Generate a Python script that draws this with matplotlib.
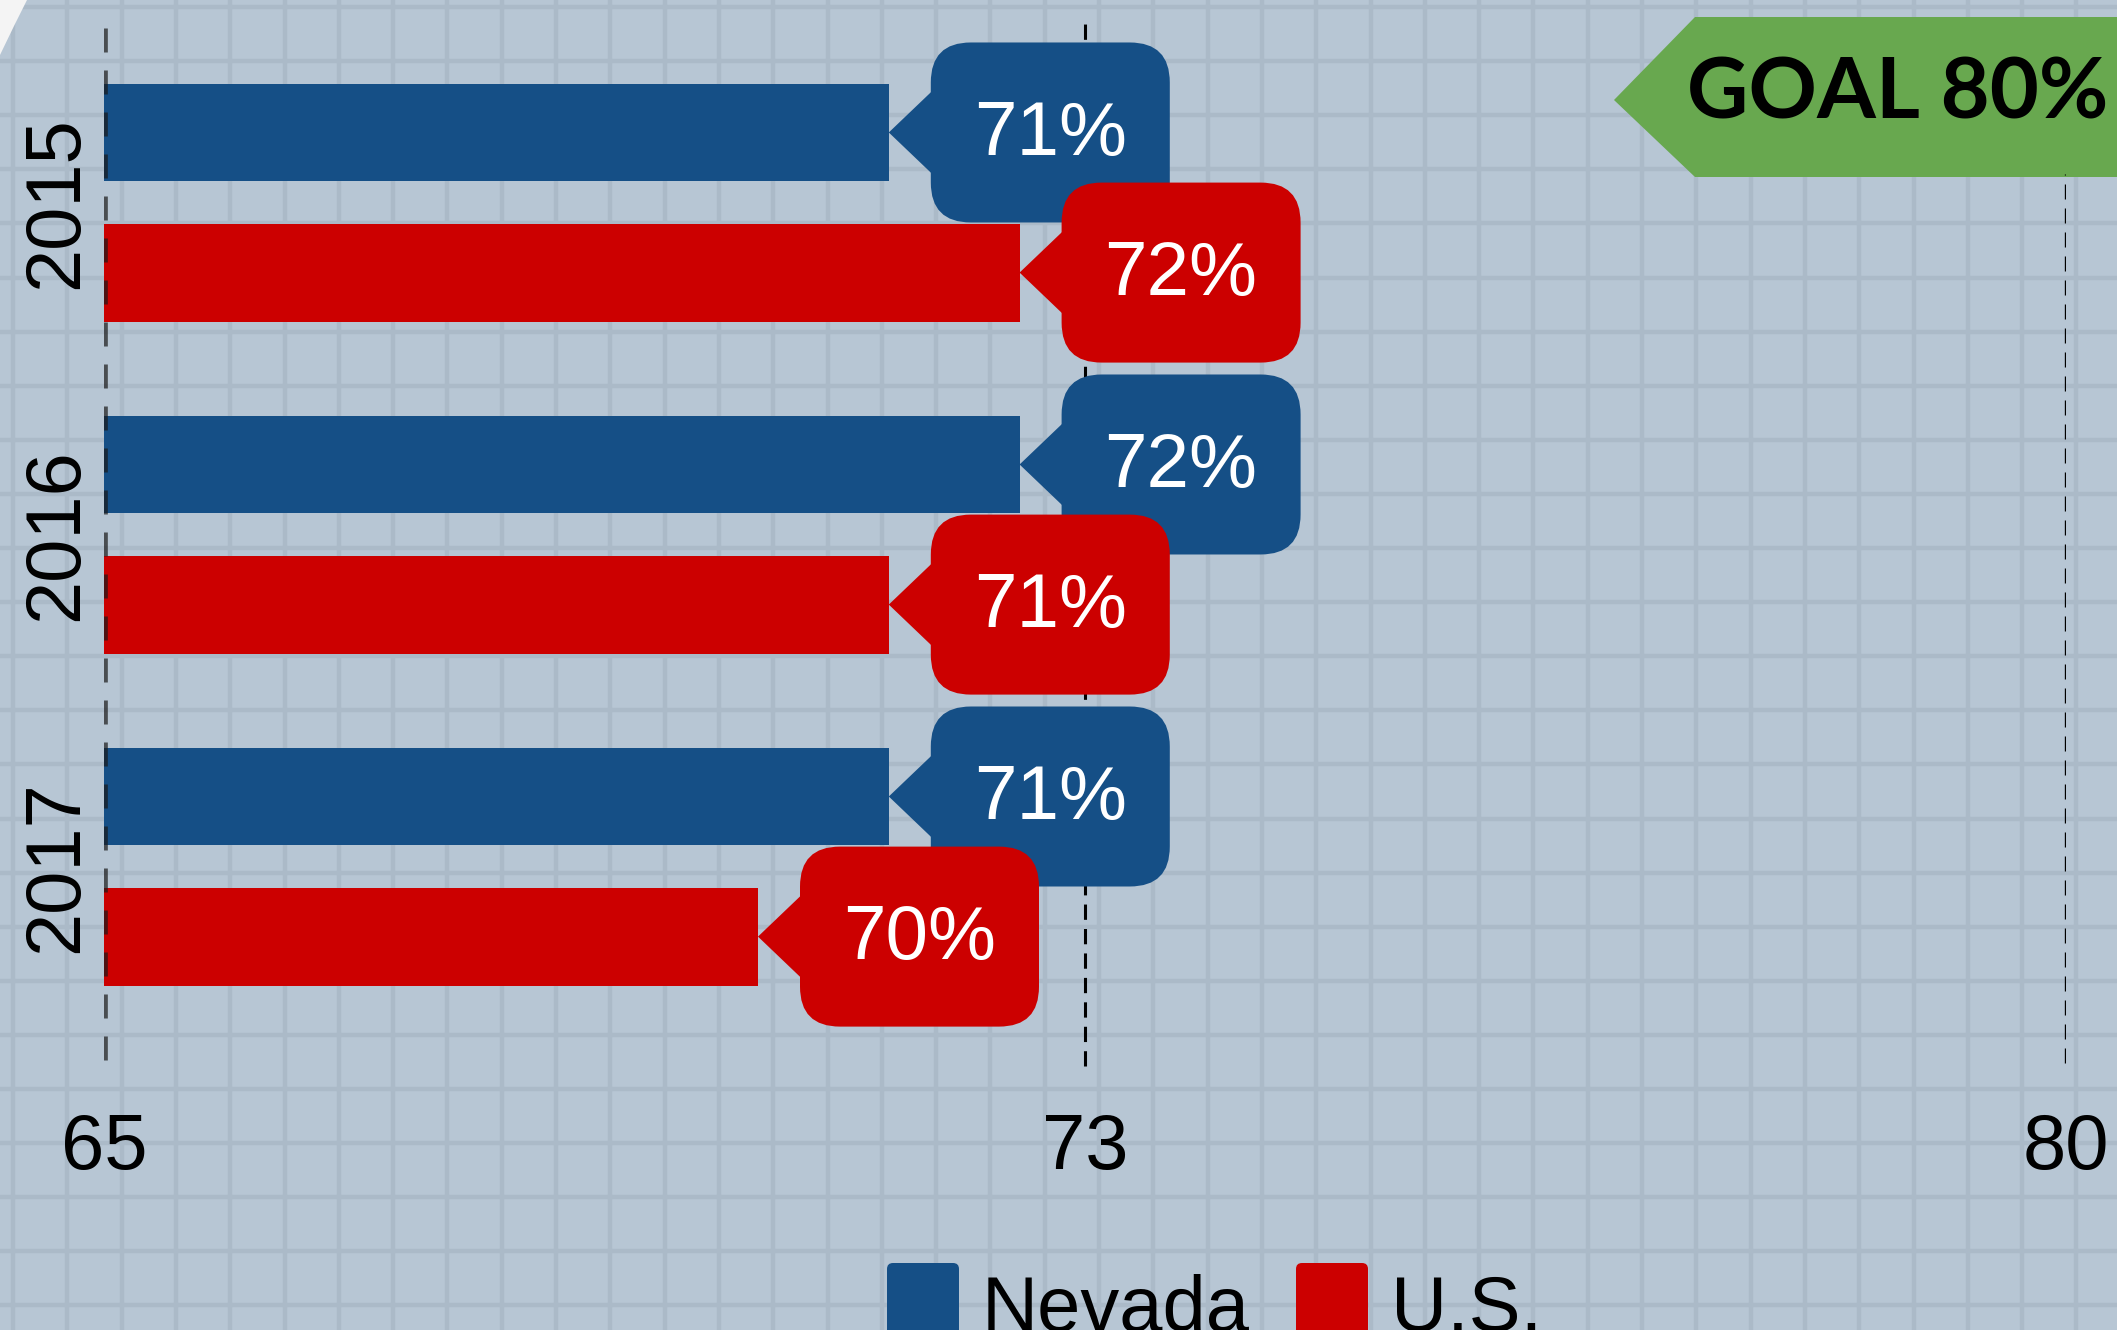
import numpy as np
import matplotlib.pyplot as plt
from matplotlib.patches import FancyBboxPatch, Polygon
from matplotlib.transforms import ScaledTranslation

# Données
years = ['2015', '2016', '2017']
nevada = [71, 72, 71]
us = [72, 71, 70]
series_names = ['Nevada', 'U.S.']
series_colors = ['#154f86', '#cc0000']
tick_values = [65, 72.5, 80]
tick_labels = ['65', '73', '80']
goal_text = 'GOAL 80%'

W, H = 2117, 1330
plt.rcParams['font.family'] = ['Liberation Sans', 'DejaVu Sans']

fig = plt.figure(figsize=(W / 100, H / 100), dpi=100)
fig.patch.set_facecolor('#b7c6d4')

# Fond quadrillé (coordonnées en pixels)
bg = fig.add_axes([0, 0, 1, 1], zorder=0)
bg.set_xlim(0, W)
bg.set_ylim(H, 0)
bg.set_axis_off()
for x in np.arange(13, W, 54.3):
    bg.axvline(x, color='#abbac8', lw=3.2, zorder=0)
for y in np.arange(7, H, 54.1):
    bg.axhline(y, color='#abbac8', lw=3.2, zorder=0)
bg.add_patch(Polygon([(0, 0), (27, 0), (14, 26), (0, 55)], closed=True,
                     color='#f4f4f4', lw=0, zorder=1))

# Étiquette objectif
bg.add_patch(Polygon([(1614, 100), (1695, 17), (W + 10, 17), (W + 10, 177), (1695, 177)],
                     closed=True, color='#68a84f', lw=0, zorder=2))
bg.text(1898, 94, goal_text, family=['Lato', 'DejaVu Sans'], fontweight='bold',
        fontsize=61, color='black', ha='center', va='center', zorder=3)

# Légende (en bas, coupée par le bord)
leg_x = [887, 1296]
for i, (name, col) in enumerate(zip(series_names, series_colors)):
    bg.add_patch(FancyBboxPatch((leg_x[i], 1263), 72, 90,
                                boxstyle='round,pad=0,rounding_size=6',
                                color=col, lw=0, zorder=2))
    bg.text(leg_x[i] + 95, 1331, name, fontsize=56, color='black',
            ha='left', va='baseline', zorder=3)

# Axe principal
ax = fig.add_axes([104 / W, (H - 1090) / H, 1962 / W, 1090 / H], zorder=1)
ax.patch.set_alpha(0)
ax.set_xlim(65, 80)
ax.set_ylim(2.673, -0.61)
for s in ax.spines.values():
    s.set_visible(False)

ax.set_xticks(tick_values, labels=tick_labels)
ax.set_yticks(range(len(years)), labels=years)
ax.tick_params(axis='x', length=0, pad=16, labelsize=56)
ax.tick_params(axis='y', length=0, pad=8, labelsize=56)
for lbl in ax.get_yticklabels():
    lbl.set_rotation(90)
    lbl.set_va('center')

ax.axvline(72.5, ymin=0.022, ymax=0.983, color='black', lw=2.2,
           dashes=(5, 3), zorder=1)
ax.axvline(80, ymin=0.025, ymax=0.84, color='black', lw=2.4,
           dashes=(4.5, 2.7), zorder=1)

offset = 0.211
bar_h = 0.295
z = 2
ypos = np.arange(len(years))
for i in range(len(years)):
    for k, vals in enumerate([nevada, us]):
        yy = ypos[i] + (-offset if k == 0 else offset)
        col = series_colors[k]
        ax.barh(yy, vals[i], height=bar_h, color=col, zorder=z)
        # bulle en pouces, ancrée au bout de la barre
        tr = fig.dpi_scale_trans + ScaledTranslation(vals[i], yy, ax.transData)
        ax.add_patch(Polygon([(0, 0), (0.45, 0.43), (0.45, -0.43)], closed=True,
                             color=col, lw=0, transform=tr, zorder=z + 1, clip_on=False))
        ax.add_patch(FancyBboxPatch((0.42, -0.90), 2.39, 1.80,
                                    boxstyle='round,pad=0,rounding_size=0.4',
                                    color=col, lw=0, transform=tr, zorder=z + 1,
                                    clip_on=False))
        ax.text(1.615, -0.03, f'{vals[i]}%', transform=tr, fontsize=55,
                color='white', ha='center', va='center', zorder=z + 2)
        z += 3

ax.axvline(65, ymin=0.0275, ymax=0.975, color='#1a1a1a', alpha=0.7, lw=4.8,
           dashes=(3.6, 2.7), zorder=50)

fig.savefig('out.png', dpi=100, facecolor=fig.get_facecolor())
